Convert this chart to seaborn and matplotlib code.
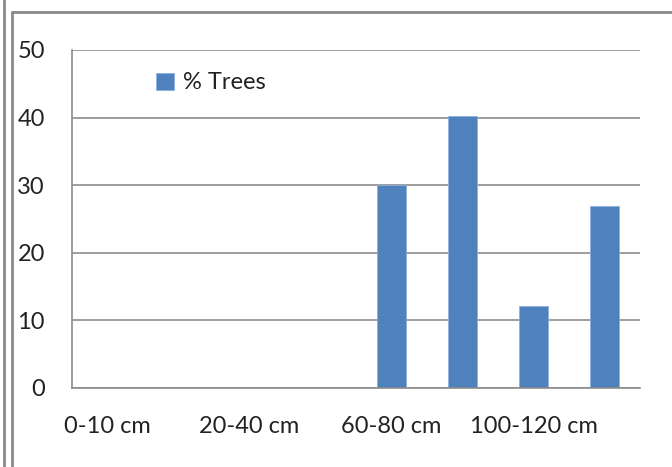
import matplotlib
matplotlib.use("Agg")
import matplotlib.pyplot as plt
import seaborn as sns
import pandas as pd
from matplotlib.lines import Line2D

# chart data
categories = ["0-10 cm", "10-20 cm", "20-40 cm", "40-60 cm",
              "60-80 cm", "80-100 cm", "100-120 cm", "120-140 cm"]
pct_trees = [0, 0, 0, 0, 30.1, 40.2, 12.2, 26.9]
shown_labels = ["0-10 cm", "20-40 cm", "60-80 cm", "100-120 cm"]
y_ticks = [0, 10, 20, 30, 40, 50]

df = pd.DataFrame({"size": categories, "pct": pct_trees})

sns.set_style("white")
plt.rcParams['font.family'] = ['Lato', 'DejaVu Sans']

fig = plt.figure(figsize=(6.72, 4.67), dpi=100)
ax = fig.add_axes([72 / 672, 79 / 467, 568 / 672, 338 / 467])

sns.barplot(data=df, x="size", y="pct", color="#4F81BD", width=0.4,
            saturation=1, label="% Trees", ax=ax, edgecolor="#8DB0DC", linewidth=0.6)

ax.set_xlim(-0.5, len(categories) - 0.5)
ax.set_ylim(0, 50)
ax.set_yticks(y_ticks)
ax.set_yticklabels([str(t) for t in y_ticks], fontsize=17, color="#222222")
ax.yaxis.grid(True, color="#8C8C8C", linewidth=1.2)
ax.set_axisbelow(True)

# category ticks between bars, labels on every other category
ax.set_xticks([i - 0.5 for i in range(len(categories) + 1)])
ax.set_xticklabels([])
ax.set_xticks([categories.index(c) for c in shown_labels], minor=True)
ax.set_xticklabels(shown_labels, minor=True, fontsize=17, color="#222222")
ax.tick_params(axis="x", which="major", length=7, width=1, color="#8C8C8C", direction="out")
ax.tick_params(axis="x", which="minor", length=0, pad=20)
ax.tick_params(axis="y", length=7, width=1, color="#8C8C8C", pad=12.5)
ax.set_xlabel("")
ax.set_ylabel("")

for side in ["top", "right"]:
    ax.spines[side].set_visible(False)
for side in ["left", "bottom"]:
    ax.spines[side].set_color("#8C8C8C")
    ax.spines[side].set_linewidth(1.2)

ax.legend(loc="center left", bbox_to_anchor=(63 / 568, 1 - 33 / 338), frameon=False,
          fontsize=17, handlelength=0.75, handleheight=0.75, handletextpad=0.4,
          labelcolor="#222222")

# outer frame lines
W, H = 672, 467
frame = "#8A8A8A"
fig.add_artist(Line2D([4 / W, 4 / W], [0, 1], transform=fig.transFigure, color=frame, lw=2))
fig.add_artist(Line2D([12 / W, 12 / W], [0, 1 - 12 / H], transform=fig.transFigure, color=frame, lw=2))
fig.add_artist(Line2D([12 / W, 1], [1 - 12 / H, 1 - 12 / H], transform=fig.transFigure, color=frame, lw=2))

fig.savefig("out.png", dpi=100)
plt.close(fig)
